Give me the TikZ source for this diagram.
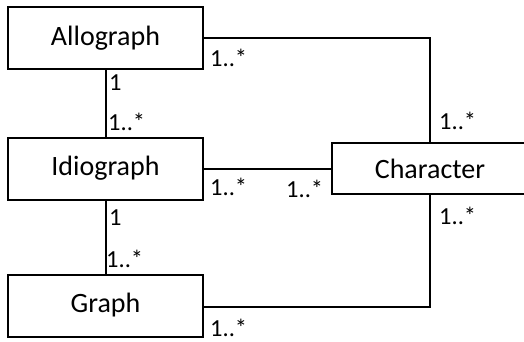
\documentclass[tikz,border=0pt]{standalone}
\usepackage{fontspec}
\setmainfont{Carlito}
\begin{document}
\begin{tikzpicture}[x=1pt,y=-1pt,
  cls/.style={draw=black,line width=2pt,minimum width=195pt,minimum height=62pt,inner sep=0pt,font=\fontsize{28}{32}\selectfont,fill=white},
  conn/.style={draw=black,line width=2pt},
  mult/.style={font=\fontsize{24.5}{28}\selectfont,inner sep=0pt,anchor=west}]
\useasboundingbox (0,0) rectangle (524,342);
\node[cls] (allo) at (105.5,38) {Allograph};
\node[cls] (idio) at (105.5,168.5) {Idiograph};
\node[cls] (graph) at (105.5,305.5) {Graph};
\node[cls,minimum width=196pt,minimum height=51pt] (char) at (430,168.5) {Character};
\coordinate (c1) at (430,38);
\coordinate (c2) at (430,307);
\draw[conn] (allo.east |- 0,38) -- (c1) -- (c1 |- char.north);
\draw[conn] (idio.east) -- (char.west |- idio.east);
\draw[conn] (graph.east |- 0,307) -- (c2) -- (c2 |- char.south);
\draw[conn] (allo.south) -- (idio.north);
\draw[conn] (idio.south) -- (graph.north);
\node[mult] (m1) at (210,58) {1..*};
\node[mult] (m2) at (109,83) {1};
\node[mult] (m3) at (108,122) {1..*};
\node[mult] (m4) at (439,121) {1..*};
\node[mult] (m5) at (210,187) {1..*};
\node[mult] (m6) at (286,189) {1..*};
\node[mult] (m7) at (109,218) {1};
\node[mult] (m8) at (106,259) {1..*};
\node[mult] (m9) at (439,216) {1..*};
\node[mult] (m10) at (210,328) {1..*};
\end{tikzpicture}
\end{document}
